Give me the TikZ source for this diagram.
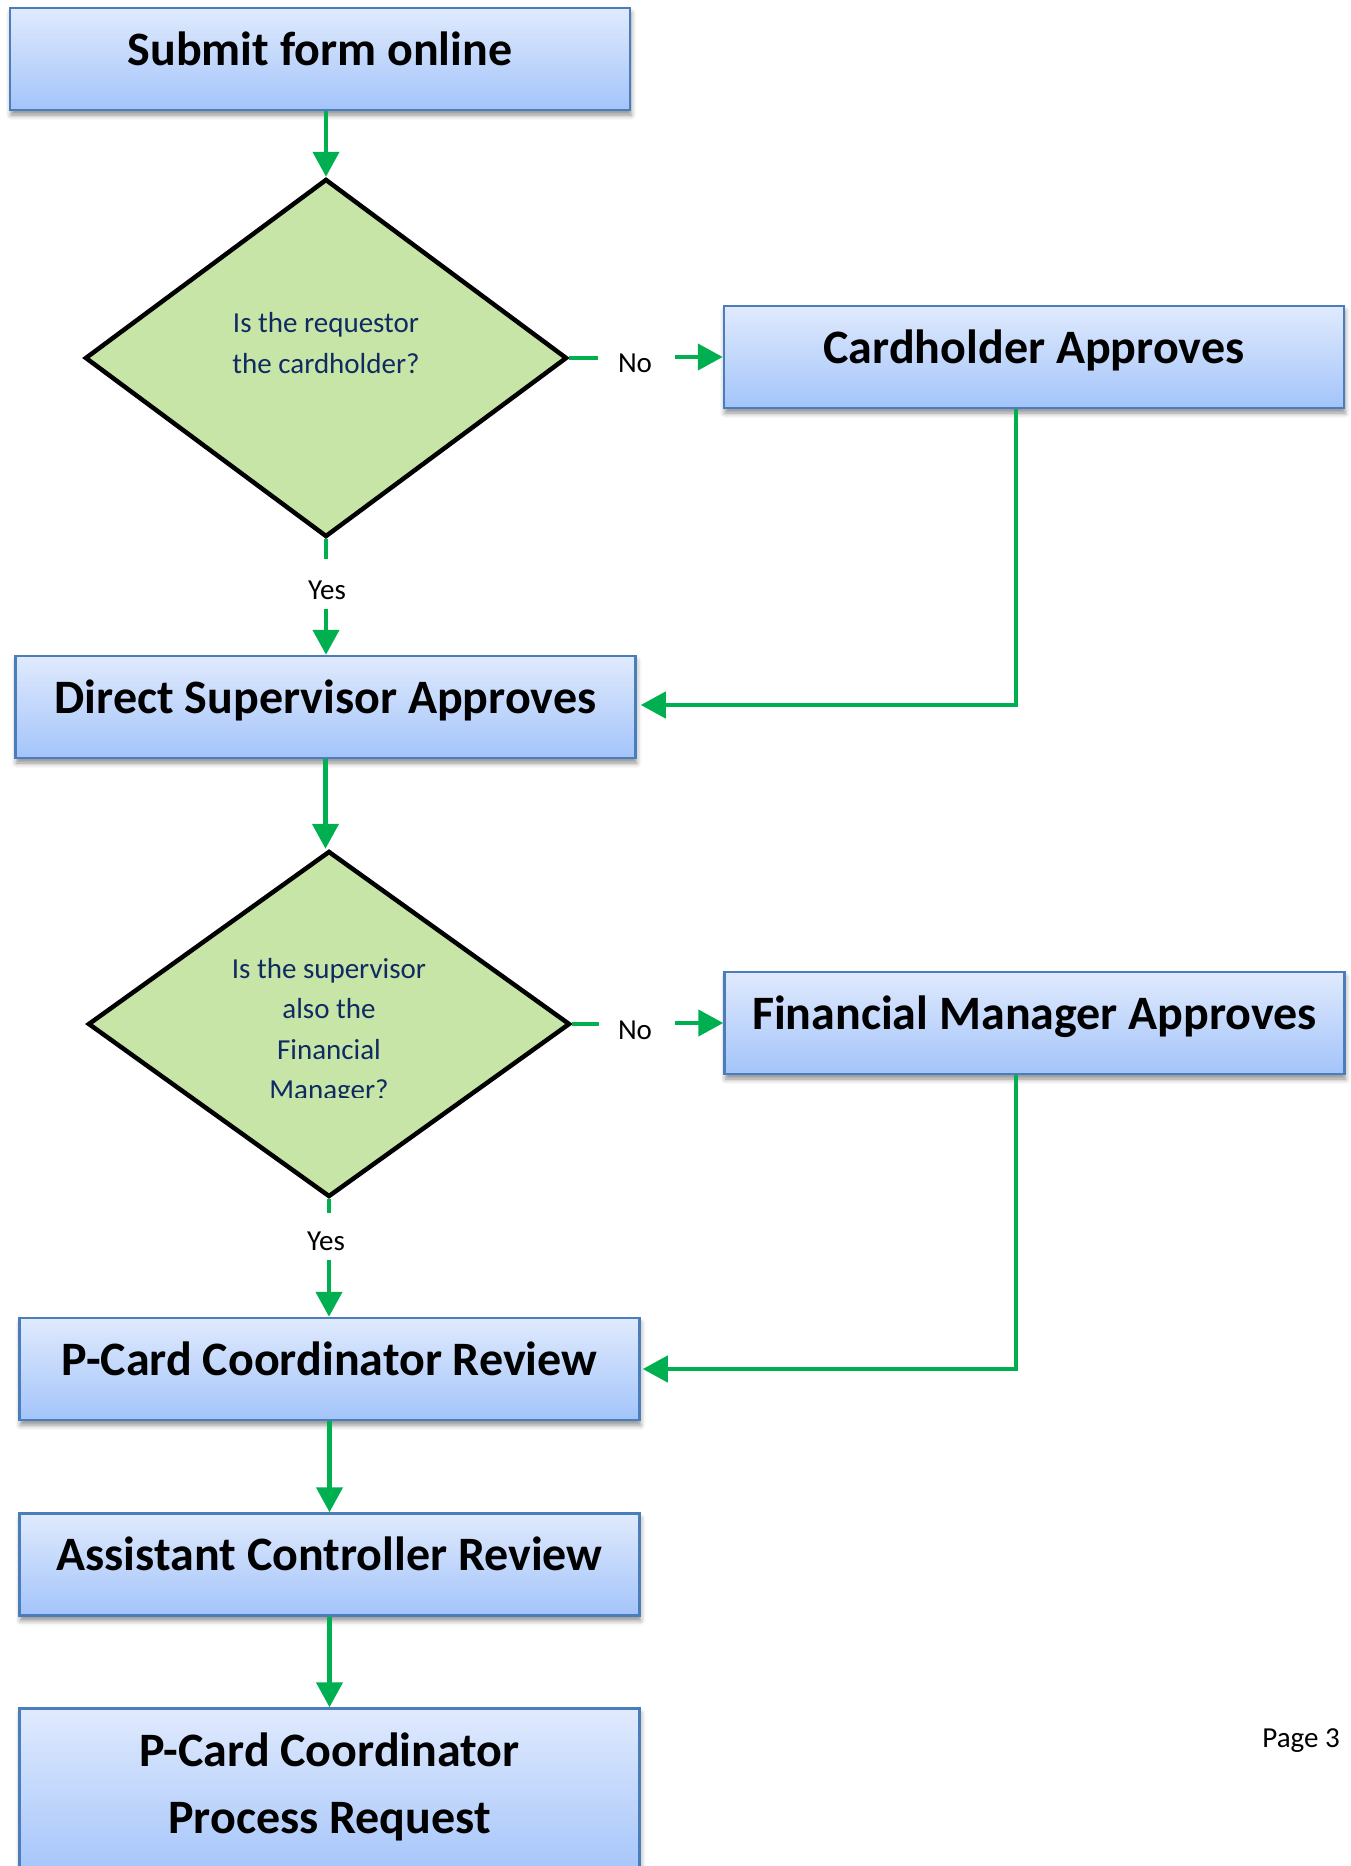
\documentclass[tikz,border=0pt]{standalone}
\usepackage{fontspec}
\setmainfont{Carlito}
\usetikzlibrary{arrows.meta,shapes.geometric,shadows.blur,calc}
\definecolor{boxtop}{RGB}{224,234,253}
\definecolor{boxbot}{RGB}{163,196,250}
\definecolor{boxline}{RGB}{74,126,187}
\definecolor{flow}{RGB}{0,176,80}
\definecolor{dfill}{RGB}{199,229,166}
\definecolor{dtextc}{RGB}{16,42,98}
\begin{document}
\begin{tikzpicture}[x=1pt,y=-1pt,
  procbox/.style={draw=boxline, line width=2.5pt, top color=boxtop, bottom color=boxbot,
    minimum width=620pt, minimum height=102pt, inner sep=0pt, align=center,
    text height=40pt, text depth=28pt, font=\fontsize{48}{67}\selectfont\bfseries,
    blur shadow={shadow xshift=1pt, shadow yshift=-5pt, shadow blur radius=5pt, shadow opacity=45}},
  decision/.style={diamond, draw=black, line width=4.5pt, fill=dfill, inner sep=0pt,
    minimum width=482pt},
  dtext/.style={align=center, text=dtextc, font=\fontsize{29}{40.5}\selectfont,
    inner sep=0pt, text height=21pt, anchor=north},
  lbl/.style={font=\fontsize{29}{35}\selectfont, inner sep=0pt, anchor=base},
  flowline/.style={draw=flow, line width=4.5pt},
  flowarrow/.style={flowline, -{Triangle[length=25pt,width=26pt]}},
]
\useasboundingbox (0,0) rectangle (1351,1866);
\clip (0,0) rectangle (1351,1866);

% boxes
\node[procbox] (b1) at (320,59) {Submit form online};
\node[procbox] (ch) at (1034,357) {Cardholder Approves};
\node[procbox] (ds) at (325.5,707) {Direct Supervisor Approves};
\node[procbox] (fm) at (1034.5,1023) {Financial Manager Approves};
\node[procbox] (pcr) at (329.5,1369) {P-Card Coordinator Review};
\node[procbox] (acr) at (329.5,1564.5) {Assistant Controller Review};
\node[procbox, minimum height=171pt, text height=107pt] (pcp) at (329.5,1794) {P-Card Coordinator\\Process Request};

% decisions
\node[decision, minimum height=358pt] (d1) at (326,358) {};
\node[decision, minimum height=346pt] (d2) at (329,1024) {};
\node[dtext] (d1t) at (326,352) {Is the requestor\\the cardholder?};
\begin{scope}
  \clip (120,930) rectangle (540,1097);
  \node[dtext] (d2t) at (329,1078.5) {Is the supervisor\\also the\\Financial\\Manager?};
\end{scope}

% labels
\node[lbl] (no1) at (635,372) {No};
\node[lbl] (no2) at (635,1039) {No};
\node[lbl] (yes1) at (327,599) {Yes};
\node[lbl] (yes2) at (326,1250) {Yes};
\node[lbl, anchor=base east] (pg) at (1340,1747) {Page 3};

% connectors
\draw[flowarrow] (b1.south -| d1.north) -- (d1.north);

\coordinate (n1a) at ($(d1.east)+(29,0)$);
\coordinate (n1b) at ($(ch.west)+(-48,0)$);
\draw[flowline] (d1.east) -- (n1a);
\draw[flowarrow] (n1b) -- (ch.west);

\coordinate (y1a) at ($(d1.south)+(0,20)$);
\coordinate (y1b) at ($(ds.north -| d1.south)+(0,-46)$);
\draw[flowline] (d1.south) -- (y1a);
\draw[flowarrow] (y1b) -- (y1b |- ds.north);

\draw[flowarrow, shorten >=4pt] ($(ch.south)+(-18,0)$) |- ($(ds.east)+(0,-2)$);

\draw[flowarrow] (ds.south) -- (ds.south |- d2.north);

\coordinate (n2a) at ($(d2.east)+(27,0)$);
\coordinate (n2b) at ($(fm.west)+(-48,0)$);
\draw[flowline] (d2.east) -- (n2a);
\draw[flowarrow] (n2b) -- (fm.west);

\coordinate (y2a) at ($(d2.south)+(0,14)$);
\coordinate (y2b) at ($(pcr.north -| d2.south)+(0,-57)$);
\draw[flowline] (d2.south) -- (y2a);
\draw[flowarrow] (y2b) -- (y2b |- pcr.north);

\draw[flowarrow, shorten >=2pt] ($(fm.south)+(-18.5,0)$) |- (pcr.east);

\draw[flowarrow] (pcr.south) -- (acr.north);
\draw[flowarrow] (acr.south) -- (pcp.north);
\end{tikzpicture}
\end{document}
